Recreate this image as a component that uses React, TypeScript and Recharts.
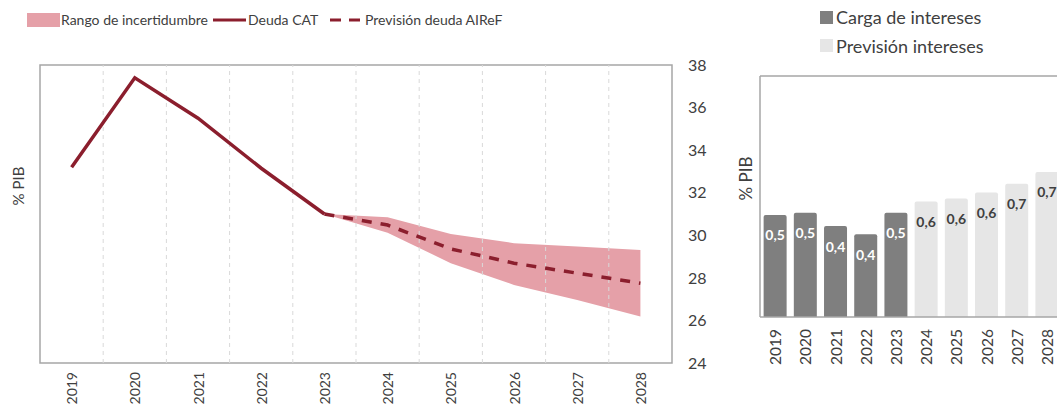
import {
  Area,
  Bar,
  Cell,
  ComposedChart,
  LabelList,
  Line,
  ReferenceArea,
  ReferenceLine,
  XAxis,
  YAxis,
} from 'recharts';

// ---------------------------------------------------------------------------
// Data
// ---------------------------------------------------------------------------

const years = ['2019', '2020', '2021', '2022', '2023', '2024', '2025', '2026', '2027', '2028'];

// Deuda CAT, % PIB
const deudaCat = [33.2, 37.4, 35.5, 33.15, 31.0, null, null, null, null, null];
const previsionDeuda = [null, null, null, null, 31.0, 30.48, 29.36, 28.69, 28.22, 27.75];
const rangoInferior = [null, null, null, null, 31.0, 30.12, 28.69, 27.67, 26.96, 26.18];
const rangoSuperior = [null, null, null, null, 31.0, 30.85, 30.06, 29.63, 29.47, 29.31];
const deudaTicks = [24, 26, 28, 30, 32, 34, 36, 38];

// Intereses, % PIB
const cargaIntereses = [0.5, 0.51, 0.445, 0.405, 0.51];
const previsionIntereses = [0.565, 0.58, 0.61, 0.652, 0.71];

// ---------------------------------------------------------------------------
// Styles
// ---------------------------------------------------------------------------

const FONT = "Lato, 'Open Sans', sans-serif";
const TEXT = '#404040';
const FRAME = '#a6a6a6';
const GRID = '#d9d9d9';
const RED = '#8b1e2d';
const PINK = '#e5a0a8';
const DARK = '#7f7f7f';
const LIGHT = '#e6e6e6';

const deudaData = years.map((y, i) => ({
  i,
  year: y,
  deuda: deudaCat[i],
  prevision: previsionDeuda[i],
  rango:
    rangoInferior[i] != null && rangoSuperior[i] != null
      ? [rangoInferior[i], rangoSuperior[i]]
      : null,
}));

const interesesData = years.map((y, i) => {
  const real = i < cargaIntereses.length;
  return {
    year: y,
    value: real ? cargaIntereses[i] : previsionIntereses[i - cargaIntereses.length],
    real,
  };
});

const fmt = (v: number) => v.toFixed(1).replace('.', ',');

function YearTick(props: any) {
  const { x, y, payload, labels, size } = props;
  const text = labels ? labels[payload.value] : payload.value;
  return (
    <text
      x={x}
      y={y}
      transform={`rotate(-90, ${x}, ${y})`}
      textAnchor="end"
      dominantBaseline="central"
      fontSize={size ?? 14}
      fontFamily={FONT}
      fill={TEXT}
    >
      {text}
    </text>
  );
}

function yLabel(dx: number, dy: number, size: number) {
  return (props: any) => {
    const vb = props.viewBox;
    const cx = vb.x + dx;
    const cy = vb.y + vb.height / 2 + dy;
    return (
      <text
        x={cx}
        y={cy}
        transform={`rotate(-90, ${cx}, ${cy})`}
        textAnchor="middle"
        dominantBaseline="central"
        fontSize={size}
        fontFamily={FONT}
        fill={TEXT}
      >
        % PIB
      </text>
    );
  };
}

function BarValue(props: any) {
  const { x, y, width, value, index } = props;
  const real = interesesData[index].real;
  return (
    <text
      x={x + width / 2}
      y={y + 20}
      textAnchor="middle"
      dominantBaseline="central"
      fontSize={14}
      fontWeight={700}
      fontFamily={FONT}
      fill={real ? '#ffffff' : TEXT}
    >
      {fmt(value)}
    </text>
  );
}

const legendLeft = { fontSize: 14, color: TEXT, fontFamily: FONT, whiteSpace: 'nowrap' as const, lineHeight: '20px' };
const legendRight = { fontSize: 18, color: TEXT, fontFamily: FONT, whiteSpace: 'nowrap' as const, lineHeight: '22px' };

export default function App() {
  return (
    <div
      style={{
        position: 'absolute',
        left: 0,
        top: 0,
        width: 1057,
        height: 414,
        overflow: 'hidden',
        background: '#fff',
        fontFamily: FONT,
      }}
    >
      {/* left legend */}
      <div style={{ position: 'absolute', left: 27, top: 13, width: 33, height: 14, background: PINK }} />
      <div style={{ ...legendLeft, position: 'absolute', left: 61, top: 10 }}>Rango de incertidumbre</div>
      <svg style={{ position: 'absolute', left: 212, top: 14 }} width={36} height={12}>
        <line x1={1} y1={6} x2={34} y2={6} stroke={RED} strokeWidth={3} />
      </svg>
      <div style={{ ...legendLeft, position: 'absolute', left: 248, top: 10 }}>Deuda CAT</div>
      <svg style={{ position: 'absolute', left: 329, top: 14 }} width={34} height={12}>
        <line x1={1} y1={6} x2={31} y2={6} stroke={RED} strokeWidth={3} strokeDasharray="11 8" />
      </svg>
      <div style={{ ...legendLeft, position: 'absolute', left: 365, top: 10 }}>Previsión deuda AIReF</div>

      {/* right legend */}
      <div style={{ position: 'absolute', left: 820, top: 11, width: 13, height: 13, background: DARK }} />
      <div style={{ ...legendRight, position: 'absolute', left: 836, top: 6 }}>Carga de intereses</div>
      <div style={{ position: 'absolute', left: 820, top: 39, width: 13, height: 13, background: LIGHT }} />
      <div style={{ ...legendRight, position: 'absolute', left: 836, top: 35 }}>Previsión intereses</div>

      {/* deuda chart */}
      <div style={{ position: 'absolute', left: 0, top: 0 }}>
        <ComposedChart
          width={720}
          height={414}
          data={deudaData}
          margin={{ top: 65, right: 0, bottom: 0, left: 0 }}
        >
          <XAxis
            dataKey="i"
            type="number"
            domain={[-0.5, 9.5]}
            ticks={years.map((_, i) => i)}
            interval={0}
            tickLine={false}
            axisLine={false}
            height={51}
            tickMargin={3}
            tick={<YearTick labels={years} size={14} />}
          />
          <YAxis
            yAxisId="l"
            orientation="left"
            width={40}
            domain={[24, 38]}
            tick={false}
            tickLine={false}
            axisLine={false}
            label={yLabel(18, -28, 15)}
          />
          <YAxis
            yAxisId="r"
            orientation="right"
            width={48}
            domain={[24, 38]}
            ticks={deudaTicks}
            interval={0}
            tickLine={false}
            axisLine={false}
            tickMargin={10}
            tick={{ fontSize: 16, fill: TEXT, fontFamily: FONT }}
          />
          {years.slice(1).map((_, k) => (
            <ReferenceLine
              key={'g' + k}
              yAxisId="r"
              x={k + 0.5}
              stroke={GRID}
              strokeDasharray="4 4"
            />
          ))}
          <Area
            yAxisId="r"
            dataKey="rango"
            type="linear"
            fill={PINK}
            fillOpacity={1}
            stroke="none"
            isAnimationActive={false}
          />
          <Line
            yAxisId="r"
            dataKey="deuda"
            type="linear"
            stroke={RED}
            strokeWidth={3.5}
            dot={false}
            activeDot={false}
            isAnimationActive={false}
          />
          <Line
            yAxisId="r"
            dataKey="prevision"
            type="linear"
            stroke={RED}
            strokeWidth={3.5}
            strokeDasharray="10 9"
            dot={false}
            activeDot={false}
            isAnimationActive={false}
          />
          <ReferenceArea
            yAxisId="r"
            x1={-0.5}
            x2={9.5}
            y1={24}
            y2={38}
            fill="none"
            stroke={FRAME}
            strokeWidth={1.5}
          />
        </ComposedChart>
      </div>

      {/* intereses chart */}
      <div style={{ position: 'absolute', left: 700, top: 0 }}>
        <ComposedChart
          width={370}
          height={414}
          data={interesesData}
          margin={{ top: 76, right: 8, bottom: 0, left: 0 }}
          barCategoryGap="12%"
        >
          <XAxis
            dataKey="year"
            interval={0}
            tickLine={false}
            axisLine={{ stroke: FRAME, strokeWidth: 1.5 }}
            height={97}
            tickMargin={6}
            tick={<YearTick size={15.5} />}
          />
          <YAxis
            width={60}
            domain={[0, 1.18]}
            tick={false}
            tickLine={false}
            axisLine={{ stroke: FRAME, strokeWidth: 1.5 }}
            label={yLabel(45, -18, 17)}
          />
          <ReferenceLine y={1.18} stroke={FRAME} strokeWidth={1.5} />
          <Bar dataKey="value" radius={[2, 2, 0, 0]} isAnimationActive={false}>
            {interesesData.map((d, i) => (
              <Cell key={i} fill={d.real ? DARK : LIGHT} />
            ))}
            <LabelList dataKey="value" content={<BarValue />} />
          </Bar>
        </ComposedChart>
      </div>
    </div>
  );
}
